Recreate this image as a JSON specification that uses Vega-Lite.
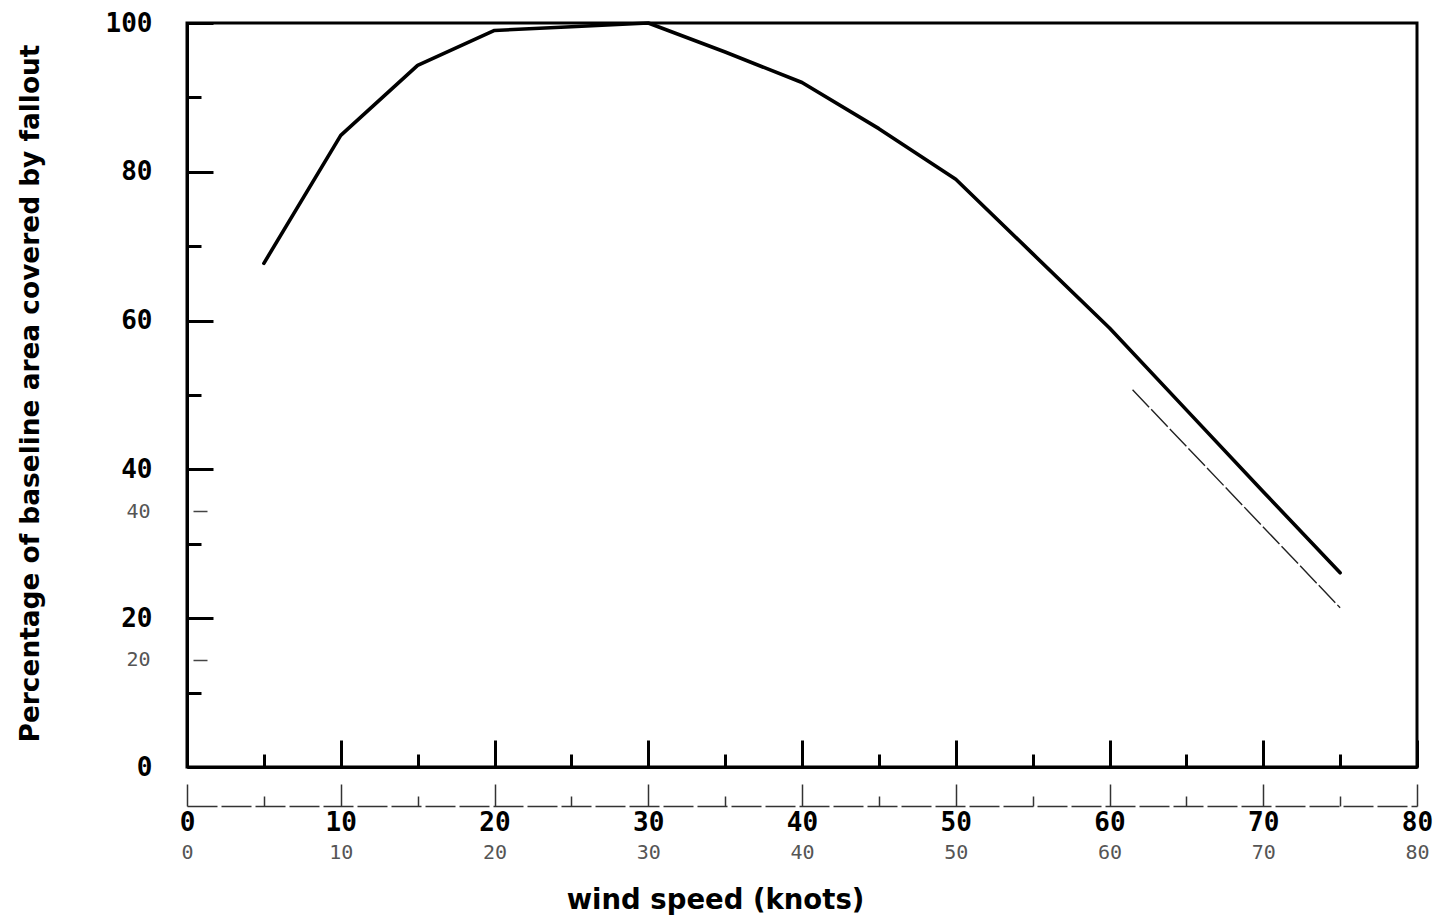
{
  "$schema": "https://vega.github.io/schema/vega-lite/v6.json",
  "autosize": "none",
  "width": 1230,
  "height": 744,
  "padding": {"left": 187, "top": 23, "right": 20, "bottom": 155},
  "background": "white",
  "config": {
    "view": {"stroke": "black", "strokeWidth": 3},
    "axis": {"grid": false, "domainColor": "black", "tickColor": "black", "labelColor": "black", "titleColor": "black"}
  },
  "data": {
    "values": [
      {"knots": 5, "pct": 67.7, "series": "main"},
      {"knots": 10, "pct": 84.9, "series": "main"},
      {"knots": 15, "pct": 94.3, "series": "main"},
      {"knots": 20, "pct": 99.0, "series": "main"},
      {"knots": 25, "pct": 99.5, "series": "main"},
      {"knots": 30, "pct": 100, "series": "main"},
      {"knots": 35, "pct": 96.1, "series": "main"},
      {"knots": 40, "pct": 92.0, "series": "main"},
      {"knots": 45, "pct": 85.8, "series": "main"},
      {"knots": 50, "pct": 79.0, "series": "main"},
      {"knots": 55, "pct": 69.0, "series": "main"},
      {"knots": 60, "pct": 59.0, "series": "main"},
      {"knots": 65, "pct": 48.0, "series": "main"},
      {"knots": 70, "pct": 37.0, "series": "main"},
      {"knots": 75, "pct": 26.1, "series": "main"},
      {"knots": 61.5, "pct": 50.7, "series": "ghost"},
      {"knots": 75, "pct": 21.4, "series": "ghost"}
    ]
  },
  "layer": [
    {
      "transform": [{"filter": "datum.series === 'main'"}],
      "mark": {"type": "line", "color": "black", "strokeWidth": 3.6, "strokeCap": "round", "strokeJoin": "round"},
      "encoding": {
        "x": {"field": "knots", "type": "quantitative", "scale": {"domain": [0, 80], "nice": false, "zero": false},
          "axis": {"orient": "bottom", "values": [0, 10, 20, 30, 40, 50, 60, 70, 80], "tickSize": -27, "tickWidth": 3, "domainWidth": 3,
            "labelFont": "DejaVu Sans Mono", "labelFontWeight": "bold", "labelFontSize": 26, "labelPadding": 82, "labelBaseline": "middle", "labelFlush": false,
            "title": "wind speed (knots)", "titleFont": "DejaVu Sans", "titleFontWeight": "bold", "titleFontSize": 27.5,
            "titleX": 528, "titleY": 133, "titleBaseline": "middle", "titleAlign": "center"}},
        "y": {"field": "pct", "type": "quantitative", "scale": {"domain": [0, 100], "nice": false, "zero": false},
          "axis": {"orient": "left", "values": [0, 20, 40, 60, 80, 100], "tickSize": -26, "tickWidth": 3, "domainWidth": 3,
            "labelFont": "DejaVu Sans Mono", "labelFontWeight": "bold", "labelFontSize": 26, "labelPadding": 61, "labelBaseline": "middle", "labelFlush": false,
            "title": "Percentage of baseline area covered by fallout", "titleFont": "DejaVu Sans", "titleFontWeight": "bold", "titleFontSize": 26.4,
            "titleX": -157, "titleY": 370, "titleAngle": -90, "titleBaseline": "middle", "titleAlign": "center"}}
      }
    },
    {
      "transform": [{"filter": "datum.series === 'ghost'"}],
      "mark": {"type": "line", "color": "#222", "strokeWidth": 1.4, "strokeDash": [24, 3]},
      "encoding": {
        "x": {"field": "knots", "type": "quantitative", "scale": {"domain": [0, 80], "nice": false, "zero": false},
          "axis": {"orient": "bottom", "values": [5, 15, 25, 35, 45, 55, 65, 75], "tickSize": -13, "tickWidth": 3, "domain": false, "labels": false, "title": null}},
        "y": {"field": "pct", "type": "quantitative", "scale": {"domain": [0, 100], "nice": false, "zero": false},
          "axis": {"orient": "left", "values": [10, 30, 50, 70, 90], "tickSize": -14, "tickWidth": 3, "domain": false, "labels": false, "title": null}}
      }
    },
    {
      "transform": [{"filter": "datum.series === 'main'"}],
      "mark": {"type": "point", "opacity": 0},
      "encoding": {
        "x": {"field": "knots", "type": "quantitative", "scale": {"domain": [0, 80], "nice": false, "zero": false},
          "axis": {"orient": "bottom", "offset": 39, "values": [0, 10, 20, 30, 40, 50, 60, 70, 80], "tickSize": -22, "tickWidth": 1.5, "domainWidth": 1.5, "domainDash": [30, 4], "tickColor": "#333", "domainColor": "#333",
            "labelFont": "DejaVu Sans Mono", "labelFontSize": 20, "labelColor": "#555", "labelPadding": 68, "labelBaseline": "middle", "labelFlush": false, "title": null}},
        "y": {"field": "pct", "type": "quantitative", "scale": {"domain": [5.6, 105.6], "nice": false, "zero": false},
          "axis": {"orient": "left", "offset": -6, "values": [20, 40], "tickSize": -14, "tickWidth": 1.5, "tickColor": "#444", "domain": false,
            "labelFont": "DejaVu Sans Mono", "labelFontSize": 20, "labelColor": "#555", "labelPadding": 57, "labelBaseline": "middle", "labelFlush": false, "title": null}}
      }
    },
    {
      "transform": [{"filter": "datum.series === 'main'"}],
      "mark": {"type": "point", "opacity": 0},
      "encoding": {
        "x": {"field": "knots", "type": "quantitative", "scale": {"domain": [0, 80], "nice": false, "zero": false},
          "axis": {"orient": "bottom", "offset": 39, "values": [5, 15, 25, 35, 45, 55, 65, 75], "tickSize": -10, "tickWidth": 1.5, "tickColor": "#333", "domain": false, "labels": false, "title": null}},
        "y": {"field": "pct", "type": "quantitative", "scale": {"domain": [0, 100], "nice": false, "zero": false}, "axis": null}
      }
    }
  ],
  "resolve": {"scale": {"x": "independent", "y": "independent"}, "axis": {"x": "independent", "y": "independent"}}
}
